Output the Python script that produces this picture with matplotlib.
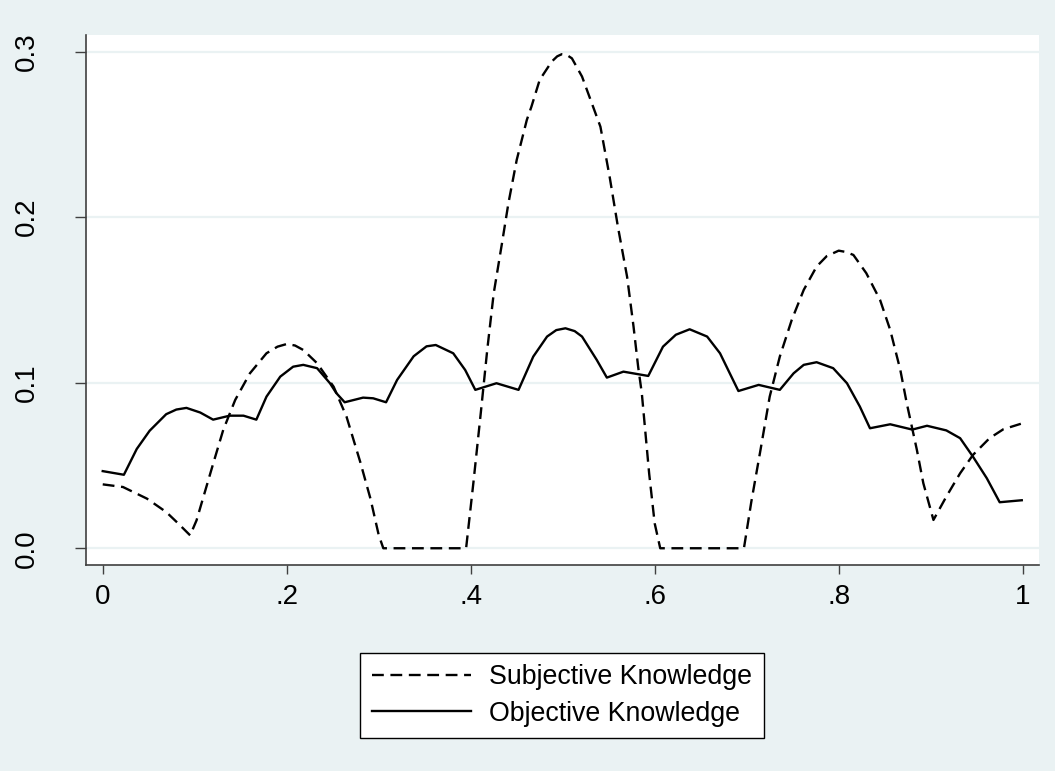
import matplotlib.pyplot as plt

plt.rcParams['font.family'] = ['Liberation Sans', 'DejaVu Sans']

# Subjective Knowledge (dashed)
x_subj = [0.0, 0.022, 0.048, 0.069, 0.082, 0.095, 0.102, 0.120, 0.131, 0.144,
          0.160, 0.178, 0.190, 0.200, 0.209, 0.218, 0.233, 0.251, 0.265, 0.280,
          0.291, 0.300, 0.305, 0.395, 0.403, 0.411, 0.418, 0.425, 0.434, 0.441,
          0.450, 0.461, 0.466, 0.475, 0.488, 0.494, 0.499, 0.504, 0.510, 0.521,
          0.533, 0.541, 0.551, 0.560, 0.570, 0.577, 0.582, 0.586, 0.594, 0.600,
          0.606, 0.697, 0.705, 0.715, 0.725, 0.736, 0.749, 0.762, 0.776, 0.787,
          0.800, 0.808, 0.816, 0.830, 0.845, 0.856, 0.867, 0.874, 0.885, 0.892,
          0.903, 0.917, 0.932, 0.946, 0.964, 0.979, 0.998]
y_subj = [0.0386, 0.0370, 0.0300, 0.0219, 0.0150, 0.0078, 0.0169, 0.0510, 0.0715, 0.0896,
          0.1057, 0.1178, 0.1218, 0.1234, 0.1225, 0.1198, 0.1118, 0.0976, 0.0795, 0.0520,
          0.0300, 0.0080, 0.0, 0.0, 0.0400, 0.0820, 0.1200, 0.1540, 0.1843, 0.2085,
          0.2346, 0.2588, 0.2668, 0.2830, 0.2940, 0.2972, 0.2985, 0.2982, 0.2960, 0.2850,
          0.2668, 0.2547, 0.2245, 0.1943, 0.1640, 0.1339, 0.1097, 0.0936, 0.0450, 0.0150,
          0.0, 0.0, 0.0280, 0.0594, 0.0916, 0.1158, 0.1380, 0.1561, 0.1702, 0.1765,
          0.1798, 0.1790, 0.1772, 0.1662, 0.1500, 0.1319, 0.1077, 0.0876, 0.0594, 0.0393,
          0.0171, 0.0312, 0.0453, 0.0564, 0.0665, 0.0719, 0.0752]

# Objective Knowledge (solid)
x_obj = [0.0, 0.023, 0.037, 0.051, 0.069, 0.080, 0.091, 0.106, 0.120, 0.138,
         0.153, 0.167, 0.178, 0.193, 0.207, 0.218, 0.233, 0.247, 0.254, 0.263,
         0.283, 0.294, 0.308, 0.320, 0.338, 0.352, 0.362, 0.381, 0.394, 0.405,
         0.428, 0.452, 0.468, 0.483, 0.493, 0.503, 0.513, 0.521, 0.537, 0.548,
         0.566, 0.593, 0.609, 0.623, 0.638, 0.657, 0.671, 0.691, 0.713, 0.736,
         0.751, 0.762, 0.776, 0.794, 0.809, 0.823, 0.834, 0.856, 0.880, 0.896,
         0.917, 0.932, 0.946, 0.961, 0.975, 0.999]
y_obj = [0.0466, 0.0444, 0.0600, 0.0710, 0.0810, 0.0838, 0.0848, 0.0820, 0.0777, 0.0801,
         0.0801, 0.0777, 0.0916, 0.1037, 0.1097, 0.1108, 0.1088, 0.0997, 0.0937, 0.0882,
         0.0910, 0.0906, 0.0882, 0.1017, 0.1160, 0.1220, 0.1228, 0.1178, 0.1077, 0.0957,
         0.0997, 0.0957, 0.1158, 0.1279, 0.1318, 0.1329, 0.1312, 0.1279, 0.1138, 0.1031,
         0.1067, 0.1041, 0.1218, 0.1290, 0.1323, 0.1279, 0.1178, 0.0950, 0.0987, 0.0957,
         0.1057, 0.1108, 0.1124, 0.1088, 0.0997, 0.0856, 0.0725, 0.0749, 0.0717, 0.0740,
         0.0712, 0.0665, 0.0553, 0.0423, 0.0278, 0.0290]

x_ticks = [0, 0.2, 0.4, 0.6, 0.8, 1.0]
x_ticklabels = ['0', '.2', '.4', '.6', '.8', '1']
y_ticks = [0.0, 0.1, 0.2, 0.3]
y_ticklabels = ['0.0', '0.1', '0.2', '0.3']

bg = '#EAF2F3'
axis_col = '#404040'

fig = plt.figure(figsize=(10.55, 7.71), dpi=100, facecolor=bg)
ax = fig.add_axes([0.0815, 0.2668, 0.9033, 0.6878])
ax.set_facecolor('white')

ax.plot(x_subj, y_subj, color='black', lw=1.7, dashes=(5, 2.8),
        label='Subjective Knowledge', zorder=3)
ax.plot(x_obj, y_obj, color='black', lw=1.7, label='Objective Knowledge', zorder=3)

ax.set_xlim(-0.0182, 1.0177)
ax.set_ylim(-0.0103, 0.3101)
ax.set_xticks(x_ticks)
ax.set_xticklabels(x_ticklabels)
ax.set_yticks(y_ticks)
ax.set_yticklabels(y_ticklabels, rotation=90, va='center')

ax.yaxis.grid(True, color=bg, lw=1.6, zorder=0)
ax.set_axisbelow(True)

for s in ['top', 'right']:
    ax.spines[s].set_visible(False)
for s in ['left', 'bottom']:
    ax.spines[s].set_color(axis_col)
    ax.spines[s].set_linewidth(1.2)

ax.tick_params(axis='x', length=6.5, width=1, color=axis_col, labelsize=20, pad=7)
ax.tick_params(axis='y', length=8, width=1, color=axis_col, labelsize=20, pad=25)

leg = fig.legend(loc='center', bbox_to_anchor=(0.5327, 0.098), fontsize=19.3,
                 frameon=True, fancybox=False, edgecolor='black', framealpha=1,
                 handlelength=3.7, handletextpad=0.7, labelspacing=0.4,
                 borderpad=0.42, borderaxespad=0)
leg.get_frame().set_linewidth(1.0)

plt.savefig('out.png', dpi=100, facecolor=bg)
